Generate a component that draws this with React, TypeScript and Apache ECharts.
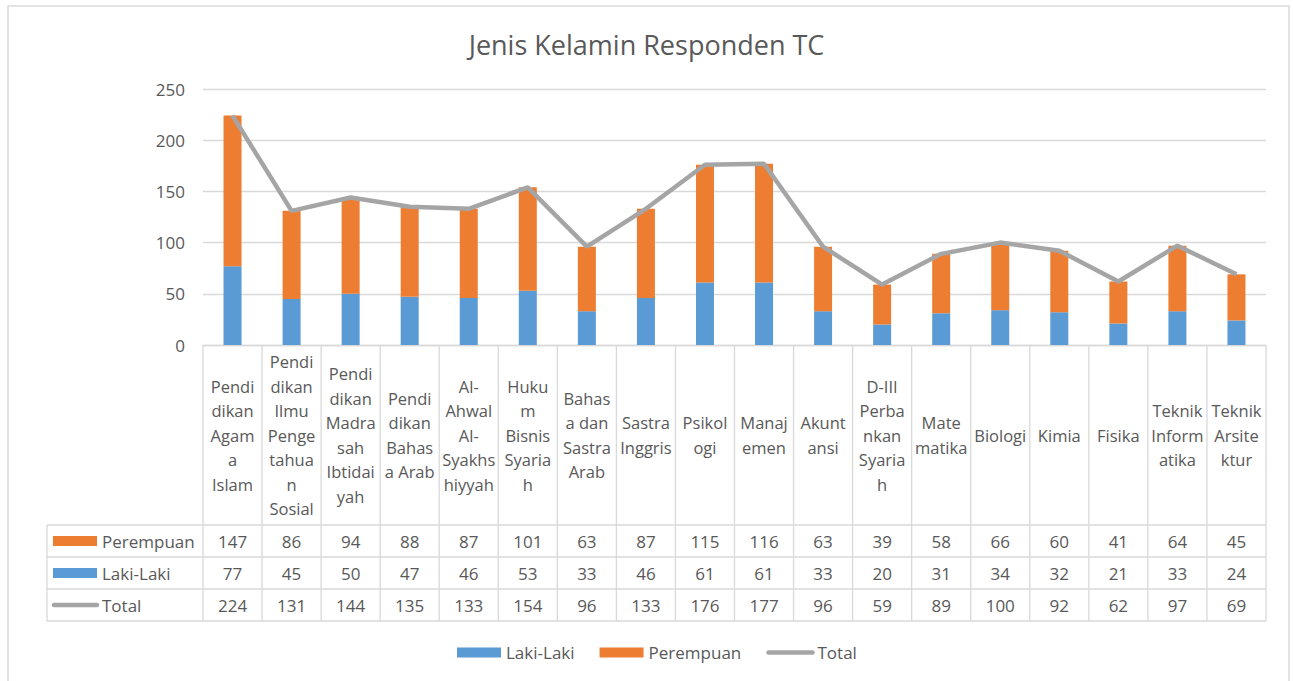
import React, { useEffect, useRef } from "react";
import * as echarts from "echarts";

const categoryLabels = [
  "Pendi\ndikan\nAgam\na\nIslam",
  "Pendi\ndikan\nIlmu\nPenge\ntahua\nn\nSosial",
  "Pendi\ndikan\nMadra\nsah\nIbtidai\nyah",
  "Pendi\ndikan\nBahas\na Arab",
  "Al-\nAhwal\nAl-\nSyakhs\nhiyyah",
  "Huku\nm\nBisnis\nSyaria\nh",
  "Bahas\na dan\nSastra\nArab",
  "Sastra\nInggris",
  "Psikol\nogi",
  "Manaj\nemen",
  "Akunt\nansi",
  "D-III\nPerba\nnkan\nSyaria\nh",
  "Mate\nmatika",
  "Biologi",
  "Kimia",
  "Fisika",
  "Teknik\nInform\natika",
  "Teknik\nArsite\nktur",
];

const perempuan = [147, 86, 94, 88, 87, 101, 63, 87, 115, 116, 63, 39, 58, 66, 60, 41, 64, 45];
const lakiLaki = [77, 45, 50, 47, 46, 53, 33, 46, 61, 61, 33, 20, 31, 34, 32, 21, 33, 24];
const total = [224, 131, 144, 135, 133, 154, 96, 133, 176, 177, 96, 59, 89, 100, 92, 62, 97, 69];

const yTicks = { min: 0, max: 250, interval: 50 };

const COLORS = { laki: "#5B9BD5", perempuan: "#ED7D31", total: "#A5A5A5" };
const TEXT = "#595959";
const BORDER = "#D9D9D9";
const FONT = "Open Sans";

export default function App() {
  const ref = useRef<HTMLDivElement>(null);

  useEffect(() => {
    if (!ref.current) return;
    const chart = echarts.init(ref.current, undefined, { renderer: "svg" });

    const W = 1293;
    const gridLeft = 203;
    const gridRight = 1266;
    const gridTop = 89;
    const gridBottomY = 345;
    const n = categoryLabels.length;
    const cellW = (gridRight - gridLeft) / n;
    const tableTop = 525;
    const rowH = 32;
    const tableLeft = 47;
    const tableBottom = tableTop + rowH * 3;

    const rows = [
      { name: "Perempuan", values: perempuan, color: COLORS.perempuan, kind: "rect" },
      { name: "Laki-Laki", values: lakiLaki, color: COLORS.laki, kind: "rect" },
      { name: "Total", values: total, color: COLORS.total, kind: "line" },
    ];

    const graphics: any[] = [];
    graphics.push({
      type: "rect",
      shape: { x: 8, y: 6, width: 1281, height: 700 },
      style: { fill: "none", stroke: BORDER, lineWidth: 1.5 },
      silent: true,
    });
    for (let i = 0; i <= n; i++) {
      const x = gridLeft + i * cellW;
      graphics.push({
        type: "line",
        shape: { x1: x, y1: gridBottomY, x2: x, y2: tableBottom },
        style: { stroke: BORDER, lineWidth: 1.3 },
        silent: true,
      });
    }
    graphics.push({
      type: "line",
      shape: { x1: tableLeft, y1: tableTop, x2: tableLeft, y2: tableBottom },
      style: { stroke: BORDER, lineWidth: 1.3 },
      silent: true,
    });
    for (let r = 0; r <= 3; r++) {
      const y = tableTop + r * rowH;
      graphics.push({
        type: "line",
        shape: { x1: tableLeft, y1: y, x2: gridRight, y2: y },
        style: { stroke: BORDER, lineWidth: 1.3 },
        silent: true,
      });
    }
    rows.forEach((row, r) => {
      const cy = tableTop + r * rowH + rowH / 2;
      if (row.kind === "rect") {
        graphics.push({
          type: "rect",
          shape: { x: 53, y: cy - 5, width: 44, height: 10 },
          style: { fill: row.color },
          silent: true,
        });
      } else {
        graphics.push({
          type: "line",
          shape: { x1: 54, y1: cy, x2: 97, y2: cy },
          style: { stroke: row.color, lineWidth: 4.5, lineCap: "round" },
          silent: true,
        });
      }
      graphics.push({
        type: "text",
        style: {
          text: row.name,
          x: 102,
          y: cy,
          align: "left",
          verticalAlign: "middle",
          fill: TEXT,
          fontSize: 17,
          fontFamily: FONT,
        },
        silent: true,
      });
      row.values.forEach((v, i) => {
        graphics.push({
          type: "text",
          style: {
            text: String(v),
            x: gridLeft + (i + 0.5) * cellW,
            y: cy,
            align: "center",
            verticalAlign: "middle",
            fill: TEXT,
            fontSize: 17,
            fontFamily: FONT,
          },
          silent: true,
        });
      });
    });

    chart.setOption({
      animation: false,
      backgroundColor: "#ffffff",
      textStyle: { fontFamily: FONT },
      title: {
        text: "Jenis Kelamin Responden TC",
        left: "center",
        top: 26,
        textStyle: { fontSize: 27, fontWeight: "normal", color: TEXT, fontFamily: FONT },
      },
      legend: {
        data: [
          { name: "Laki-Laki", icon: "rect" },
          { name: "Perempuan", icon: "rect" },
          {
            name: "Total",
            itemStyle: { opacity: 0 },
            lineStyle: { color: COLORS.total, width: 4.5, cap: "round" },
          },
        ],
        left: 452,
        top: 639,
        itemWidth: 44,
        itemHeight: 10,
        itemGap: 25,
        textStyle: { fontSize: 17, color: TEXT, fontFamily: FONT },
      },
      grid: {
        left: gridLeft,
        right: W - gridRight,
        top: gridTop,
        bottom: 681 - gridBottomY,
        containLabel: false,
      },
      xAxis: {
        type: "category",
        data: categoryLabels,
        axisLine: { show: true, lineStyle: { color: BORDER, width: 1.3 } },
        axisTick: { show: false },
        axisLabel: {
          interval: 0,
          margin: (tableTop - gridBottomY) / 2,
          verticalAlign: "middle",
          lineHeight: 24.5,
          fontSize: 16.5,
          color: TEXT,
          fontFamily: FONT,
        },
      },
      yAxis: {
        type: "value",
        min: yTicks.min,
        max: yTicks.max,
        interval: yTicks.interval,
        axisLine: { show: false },
        axisTick: { show: false },
        axisLabel: { fontSize: 17, color: TEXT, margin: 18, fontFamily: FONT },
        splitLine: { lineStyle: { color: BORDER, width: 1.3 } },
      },
      series: [
        {
          name: "Laki-Laki",
          type: "bar",
          stack: "jk",
          data: lakiLaki,
          barWidth: 18,
          itemStyle: { color: COLORS.laki },
        },
        {
          name: "Perempuan",
          type: "bar",
          stack: "jk",
          data: perempuan,
          barWidth: 18,
          itemStyle: { color: COLORS.perempuan },
        },
        {
          name: "Total",
          type: "line",
          data: total,
          symbol: "none",
          z: 5,
          lineStyle: { color: COLORS.total, width: 4.5 },
          itemStyle: { color: COLORS.total },
        },
      ],
      graphic: graphics,
    });

    return () => chart.dispose();
  }, []);

  return (
    <div
      ref={ref}
      style={{ position: "absolute", left: 0, top: 0, width: 1293, height: 681 }}
    />
  );
}
